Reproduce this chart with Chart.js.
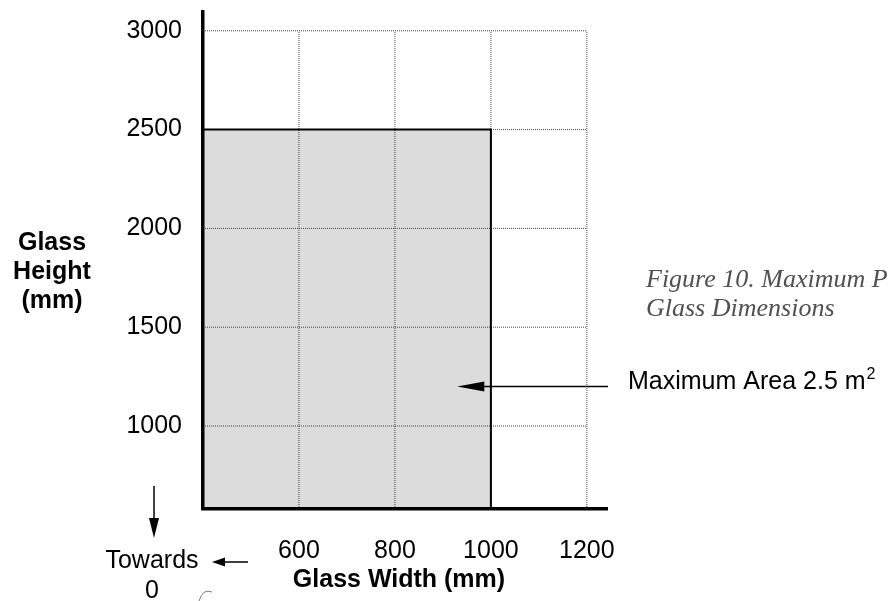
<!DOCTYPE html>
<html>
<head>
<meta charset="utf-8">
<script src="https://cdn.jsdelivr.net/npm/chart.js@4.4.0/dist/chart.umd.min.js"></script>
<style>
html,body{margin:0;padding:0;background:#fff;}
canvas{display:block;}
</style>
</head>
<body>
<canvas id="c" width="891" height="601"></canvas>
<script>
// ---- data ----
const xTicks = [600, 800, 1000, 1200];          // Glass Width tick labels (mm)
const yTicks = [1000, 1500, 2000, 2500, 3000];  // Glass Height tick labels (mm)
const xRange = [400, 1242];                     // visible width range
const yRange = [580, 3095];                     // visible height range
const maxWidthMm = 1000;                        // limit of shaded region (width)
const maxHeightMm = 2500;                       // limit of shaded region (height)
const arrowHeightMm = 1200;                     // where the "Maximum Area" arrow points
const arrowTipMm = 930;
const yTitleLines = ['Glass', 'Height', '(mm)'];
const xTitle = 'Glass Width (mm)';
const areaLabel = 'Maximum Area 2.5 m';
const areaSup = '2';
const captionLines = ['Figure 10. Maximum P', 'Glass Dimensions'];
const towardsLabel = ['Towards', '0'];

// ---- derived datasets ----
const gridTopMm = yTicks[yTicks.length - 1];
const gridRightMm = xTicks[xTicks.length - 1];
const regionPts = [
  {x: xRange[0], y: maxHeightMm},
  {x: maxWidthMm, y: maxHeightMm},
  {x: maxWidthMm, y: yRange[0]}
];
const gridPts = [];
xTicks.forEach(v => { gridPts.push({x: v, y: yRange[0]}, {x: v, y: gridTopMm}, {x: v, y: null}); });
yTicks.forEach(v => { gridPts.push({x: xRange[0], y: v}, {x: gridRightMm, y: v}, {x: xRange[0], y: null}); });

const SANS = '"Liberation Sans", Arial, sans-serif';

function arrow(ctx, x1, y1, x2, y2, headLen, headHalf, lw) {
  const ang = Math.atan2(y2 - y1, x2 - x1);
  const bx = x2 - headLen * Math.cos(ang), by = y2 - headLen * Math.sin(ang);
  ctx.beginPath();
  ctx.lineWidth = lw;
  ctx.moveTo(x1, y1); ctx.lineTo(bx, by); ctx.stroke();
  ctx.beginPath();
  ctx.moveTo(x2, y2);
  ctx.lineTo(bx + headHalf * Math.sin(ang), by - headHalf * Math.cos(ang));
  ctx.lineTo(bx - headHalf * Math.sin(ang), by + headHalf * Math.cos(ang));
  ctx.closePath(); ctx.fill();
}

const annot = {
  id: 'annot',
  afterDraw(chart) {
    const ctx = chart.ctx, xs = chart.scales.x, ys = chart.scales.y;
    ctx.save();
    ctx.fillStyle = '#000'; ctx.strokeStyle = '#000';
    ctx.textAlign = 'center'; ctx.textBaseline = 'middle';
    ctx.font = 'bold 25px ' + SANS;
    yTitleLines.forEach((t, i) => ctx.fillText(t, 52, 243 + i * 29));
    ctx.fillText(xTitle, 399, 580);
    ctx.font = '25px ' + SANS;
    ctx.fillText(towardsLabel[0], 152, 561);
    ctx.fillText(towardsLabel[1], 152, 591);
    arrow(ctx, 154, 486, 154, 538, 20, 5, 1.5);
    arrow(ctx, 248, 562, 212, 562, 13, 4.5, 1.5);
    const ay = ys.getPixelForValue(arrowHeightMm);
    arrow(ctx, 608, ay, xs.getPixelForValue(arrowTipMm), ay, 27, 5, 1.5);
    ctx.textAlign = 'left';
    ctx.font = '25px ' + SANS;
    ctx.fillText(areaLabel, 628, ay - 4);
    const w = ctx.measureText(areaLabel).width;
    ctx.font = '16px ' + SANS;
    ctx.fillText(areaSup, 628 + w + 1, ay - 12);
    // caption
    ctx.fillStyle = '#505050';
    ctx.font = 'italic 26px "Liberation Serif", "Times New Roman", serif';
    captionLines.forEach((t, i) => ctx.fillText(t, 646, 280 + i * 29));
    // small stray mark
    ctx.strokeStyle = '#777'; ctx.lineWidth = 1;
    ctx.beginPath();
    ctx.moveTo(199, 601); ctx.quadraticCurveTo(203, 588, 212, 592);
    ctx.stroke();
    ctx.restore();
  }
};

new Chart(document.getElementById('c'), {
  type: 'scatter',
  data: {
    datasets: [
      { data: regionPts, showLine: true, fill: 'start', backgroundColor: '#dcdcdc',
        borderColor: 'rgba(0,0,0,0)', borderWidth: 1, pointRadius: 0, order: 3 },
      { data: gridPts, showLine: true, spanGaps: false, borderColor: '#444', borderWidth: 1,
        borderDash: [1, 1], pointRadius: 0, fill: false, order: 2 },
      { data: regionPts, showLine: true, fill: false, borderColor: '#000', borderWidth: 2,
        pointRadius: 0, order: 1 }
    ]
  },
  options: {
    responsive: false,
    animation: false,
    devicePixelRatio: 1,
    layout: { padding: { top: 12, right: 284, left: 0, bottom: 0 } },
    plugins: { legend: { display: false }, tooltip: { enabled: false } },
    scales: {
      x: {
        type: 'linear', min: xRange[0], max: xRange[1],
        afterBuildTicks: s => { s.ticks = xTicks.map(v => ({value: v})); },
        afterFit: s => { s.height = 92; s.paddingLeft = 0; s.paddingRight = 0; },
        grid: { display: false, drawTicks: false },
        border: { display: true, width: 3.5, color: '#000', z: 1 },
        ticks: { color: '#000', font: { family: SANS, size: 25 }, padding: 27, maxRotation: 0,
                 autoSkip: false, callback: v => String(v) }
      },
      y: {
        type: 'linear', min: yRange[0], max: yRange[1],
        afterBuildTicks: s => { s.ticks = yTicks.map(v => ({value: v})); },
        afterFit: s => { s.width = 203; s.paddingTop = 0; s.paddingBottom = 0; },
        grid: { display: false, drawTicks: false },
        border: { display: true, width: 3.5, color: '#000', z: 1 },
        ticks: { color: '#000', font: { family: SANS, size: 25 }, padding: 21, autoSkip: false,
                 callback: v => String(v) }
      }
    }
  },
  plugins: [annot]
});
</script>
</body>
</html>
